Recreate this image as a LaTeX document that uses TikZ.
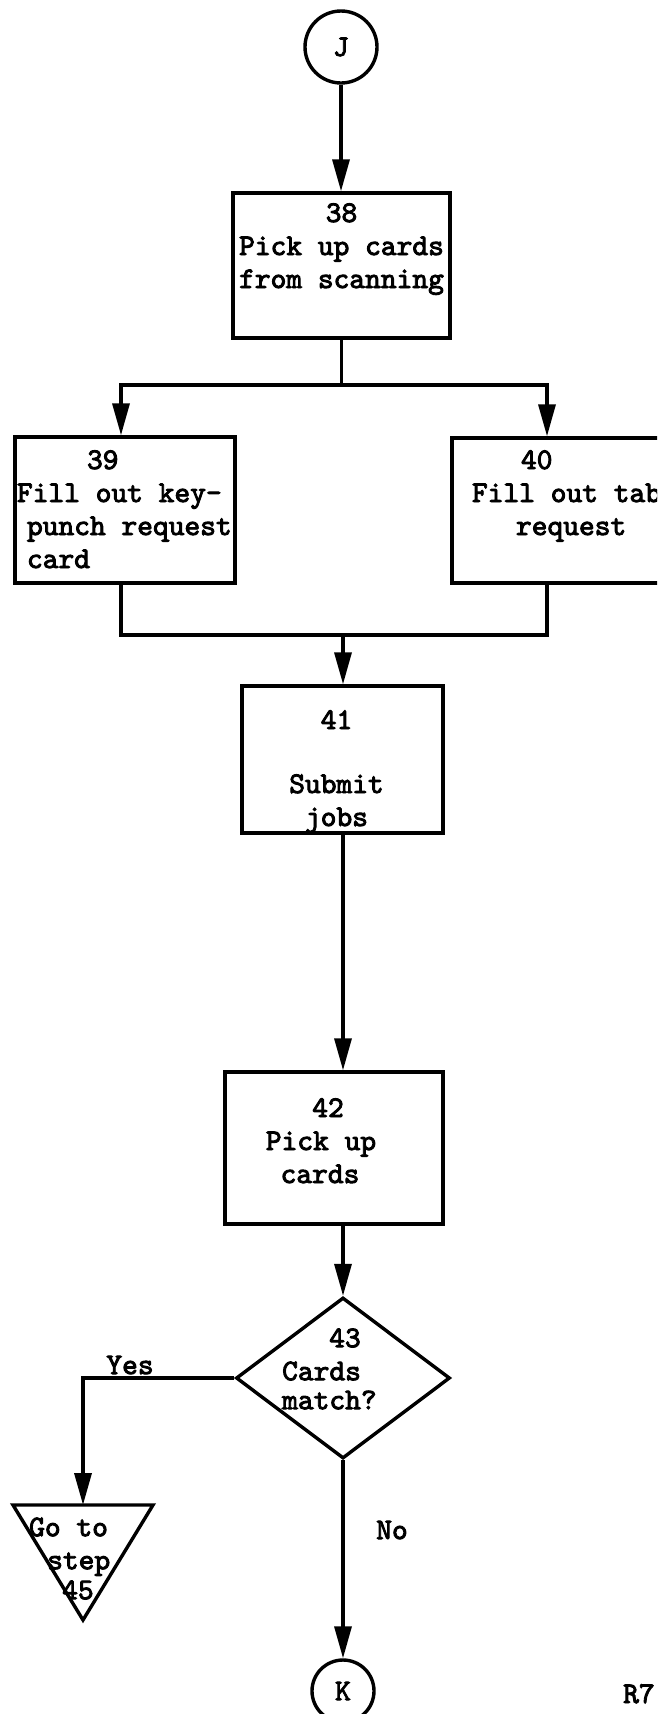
\documentclass[tikz,border=0pt]{standalone}
\usepackage{fontspec}
\usetikzlibrary{arrows.meta,shapes.geometric}
\newfontfamily\twface[FakeBold=3]{lmmono10-regular.otf}
\newcommand{\twfont}{\fontsize{30}{33}\selectfont\twface\bfseries}
\newcommand{\bx}[5]{\parbox[c][#2][t]{#1}{#3\rule{0pt}{#4}#5}}
\tikzset{
  lw/.style={line width=3.4pt},
  stepbox/.style={draw, lw, inner sep=0pt, font=\twfont},
  arr/.style={lw, -{Triangle[length=32pt,width=17pt]}},
  conncircle/.style={circle, draw, lw, inner sep=0pt, font=\twfont},
  lbl/.style={inner sep=0pt, font=\twfont},
}
\begin{document}
\begin{tikzpicture}[x=1pt,y=-1pt]
\useasboundingbox (0,0) rectangle (657,1714);
\clip (0,0) rectangle (657,1714);
% nodes
\node[conncircle, minimum size=72pt] (J) at (341,47) {J};
\node[stepbox] (b38) at (341.5,265.5) {\bx{217pt}{145pt}{\centering}{29pt}{38\\Pick up cards\\from scanning}};
\node[stepbox] (b39) at (125,510) {\bx{220pt}{146pt}{\raggedright}{32pt}{\hspace*{72pt}39\\\hspace*{2pt}Fill out key-\\\hspace*{12pt}punch request\\\hspace*{12pt}card}};
\node[stepbox] (b40) at (566,510.5) {\bx{228pt}{145pt}{\raggedright}{31pt}{\hspace*{69pt}40\\\hspace*{20pt}Fill out tab\\\hspace*{64pt}request}};
\node[stepbox] (b41) at (342.5,759.5) {\bx{201pt}{147pt}{\centering}{43pt}{41\rule{12pt}{0pt}\\[31pt]Submit\rule{12pt}{0pt}\\jobs\rule{12pt}{0pt}}};
\node[stepbox] (b42) at (334,1148) {\bx{218pt}{152pt}{\centering}{45pt}{42\rule{12pt}{0pt}\\Pick up\rule{26pt}{0pt}\\cards\rule{28pt}{0pt}}};
\node[diamond, draw, lw, inner sep=0pt, minimum width=214pt, minimum height=161pt] (d43) at (343,1378) {};
\node[lbl, anchor=north west] (d43t) at (282,1318) {\parbox[t]{130pt}{\raggedright\rule{0pt}{29pt}\hspace*{47pt}43\\Cards\\[-4pt]match?}};
\coordinate (tl) at (13,1505);
\coordinate (tr) at (153,1505);
\coordinate (tb) at (83,1620);
\coordinate (tt) at (83,1505);
\draw[lw] (tl) -- (tr) -- (tb) -- cycle;
\node[lbl, anchor=north west] (g45) at (29,1507) {\parbox[t]{120pt}{\raggedright\rule{0pt}{29pt}Go to\\\hspace*{18pt}step\\[-3pt]\hspace*{33pt}45}};
\node[conncircle, minimum size=62pt] (K) at (343,1691) {K};
\node[lbl] (yes) at (130,1365) {Yes};
\node[lbl] (no) at (392,1530) {No};
\node[lbl, anchor=base west] (r7) at (623,1703) {R7};
% connectors
\coordinate (split) at (341.5,385);
\coordinate (sl) at (121,385);
\coordinate (sr) at (547,385);
\coordinate (jl) at (121,635);
\coordinate (jr) at (547,635);
\coordinate (join) at (343,635);
\draw[arr] (J.south) -- (J.south |- b38.north);
\draw[lw] (b38.south) -- (split);
\draw[arr] (split) -- (sl) -- (sl |- b39.north);
\draw[arr] (split) -- (sr) -- (sr |- b40.north);
\draw[lw] (jl |- b39.south) -- (jl) -- (jr) -- (jr |- b40.south);
\draw[arr] (join) -- (join |- b41.north);
\draw[arr] (b41.south -| join) -- (b42.north -| join);
\draw[arr] (b42.south -| d43.north) -- (d43.north);
\draw[arr] (d43.west) -| (tt);
\draw[arr] (d43.south) -- (K.north);
\end{tikzpicture}
\end{document}
